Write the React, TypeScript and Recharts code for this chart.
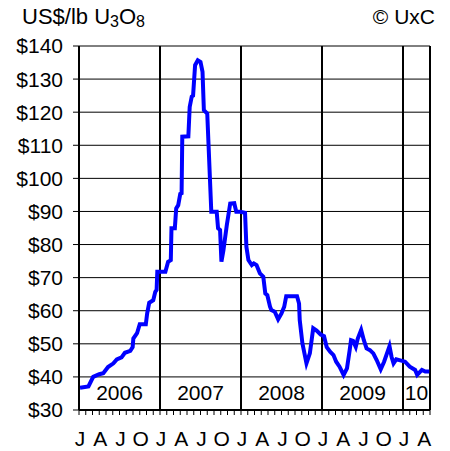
import { LineChart, Line, XAxis, YAxis, CartesianGrid, ReferenceLine, ReferenceArea } from 'recharts'

// months since Jan 2006, and UxC spot price in US$/lb U3O8
const months = [
  0.15, 1.4, 2.1, 3.0, 3.6, 4.3, 5.1, 5.6, 6.3, 6.8, 7.6, 7.95, 8.05, 8.6, 9.0, 9.9, 10.1, 10.4, 11.0, 11.3, 11.5, 11.6,
  12.8, 13.2, 13.6, 13.7, 14.2, 14.4, 14.7, 15.0, 15.2, 15.3, 16.2, 16.4, 16.7, 16.9, 17.2, 17.6, 18.0, 18.3, 18.5, 19.0,
  19.6, 20.4, 20.6, 20.9, 21.1, 21.4, 21.9, 22.4, 23.0, 23.3, 23.9,
  24.6, 24.8, 25.1, 25.6, 25.9, 26.3, 26.8, 27.3, 27.6, 27.9, 28.3, 28.5, 29.0, 29.5, 30.0, 30.4, 30.7, 32.3, 32.6, 32.7,
  33.1, 33.7, 34.2, 34.7, 35.2, 35.8, 36.3, 36.7, 37.2, 37.7, 38.1, 38.6, 39.2, 39.7, 40.1, 40.3, 40.6, 41.0, 41.3, 41.8,
  42.2, 42.6, 43.1, 43.6, 44.1, 44.7, 45.2, 46.0, 46.3, 46.6, 47.0, 47.6, 48.3, 49.0, 49.8, 50.1, 50.8, 51.3, 51.9,
]
const prices = [
  36.7, 37.1, 40.0, 40.8, 41.1, 43.0, 44.1, 45.3, 45.9, 47.3, 47.9, 49.0, 51.6, 53.2, 55.9, 55.9, 59.2, 62.4, 63.2, 65.7, 66.3, 71.8,
  71.8, 74.8, 75.3, 84.9, 84.9, 90.9, 91.9, 95.3, 95.5, 112.6, 112.7, 121.6, 124.7, 125.0, 134.2, 135.7, 135.2, 132.2, 120.6, 119.6,
  89.9, 89.9, 84.9, 84.4, 74.8, 78.3, 85.9, 92.4, 92.5, 89.9, 89.9,
  89.6, 79.3, 75.3, 73.8, 74.3, 73.8, 71.3, 70.3, 65.2, 64.7, 61.2, 60.2, 59.7, 57.4, 59.2, 61.2, 64.4, 64.4, 62.2, 57.2,
  50.1, 44.1, 47.1, 54.7, 54.0, 52.8, 52.3, 49.0, 47.6, 46.6, 44.6, 43.1, 40.6, 42.6, 48.1, 51.1, 50.9, 49.1, 51.6, 54.2,
  51.1, 48.6, 48.1, 47.1, 45.1, 42.3, 44.6, 49.3, 46.1, 44.1, 45.3, 45.0, 44.6, 43.1, 42.1, 40.6, 42.1, 41.6, 41.6,
]

const years = ['2006', '2007', '2008', '2009', '10']
const yearStarts = [0, 12, 24, 36, 48]
const yearEnds = [12, 24, 36, 48, 52]
const quarterLetters = ['J', 'A', 'J', 'O']
const yTicks = [30, 40, 50, 60, 70, 80, 90, 100, 110, 120, 130, 140]
const monthTicks = Array.from({ length: 53 }, (_, i) => i)

const data = months.map((m, i) => ({ m, price: prices[i] }))

const font = '"Liberation Sans", Arial, sans-serif'

function MonthTick(props: any) {
  const { x, y, payload } = props
  const m = payload.value
  if (m % 3 !== 0 || m >= 52) return <g />
  return (
    <text x={x + 1} y={y + 29} textAnchor="middle" fontSize={21} fontFamily={font} fill="#000">
      {quarterLetters[(m / 3) % 4]}
    </text>
  )
}

export default function App() {
  return (
    <div style={{ position: 'absolute', left: 0, top: 0, width: 450, height: 451, background: '#fff', fontFamily: font }}>
      <div style={{ position: 'absolute', left: 22, top: 4, fontSize: 22, color: '#000', whiteSpace: 'nowrap' }}>
        US$/lb U<span style={{ fontSize: 16, position: 'relative', top: 3 }}>3</span>O
        <span style={{ fontSize: 16, position: 'relative', top: 3 }}>8</span>
      </div>
      <div style={{ position: 'absolute', right: 15, top: 5, fontSize: 21, color: '#000' }}>© UxC</div>
      <LineChart width={450} height={451} data={data} margin={{ top: 46, right: 20, left: 0, bottom: 0 }}>
        <CartesianGrid vertical={false} stroke="#000" strokeWidth={1} />
        {years.map((y, i) => (
          <ReferenceArea
            key={y}
            x1={yearStarts[i]}
            x2={yearEnds[i]}
            y1={30}
            y2={40}
            fill="none"
            stroke="none"
            label={{ value: y, position: 'insideBottom', offset: 10, fontSize: 21, fill: '#000', fontFamily: font }}
          />
        ))}
        {[12, 24, 36, 48, 52].map((x) => (
          <ReferenceLine key={x} x={x} stroke="#000" strokeWidth={2} />
        ))}
        <XAxis
          dataKey="m"
          type="number"
          domain={[0, 52]}
          ticks={monthTicks}
          interval={0}
          height={41}
          tickSize={5}
          tickLine={{ stroke: '#000' }}
          axisLine={{ stroke: '#000', strokeWidth: 2 }}
          tick={<MonthTick />}
        />
        <YAxis
          domain={[30, 140]}
          ticks={yTicks}
          width={79}
          tickSize={6}
          tickMargin={10}
          tickLine={{ stroke: '#000' }}
          axisLine={{ stroke: '#000', strokeWidth: 2 }}
          tickFormatter={(v) => '$' + v}
          tick={{ fontSize: 21, fill: '#000', fontFamily: font }}
        />
        <Line dataKey="price" type="linear" stroke="#0000ff" strokeWidth={4} dot={false} isAnimationActive={false} />
      </LineChart>
    </div>
  )
}
